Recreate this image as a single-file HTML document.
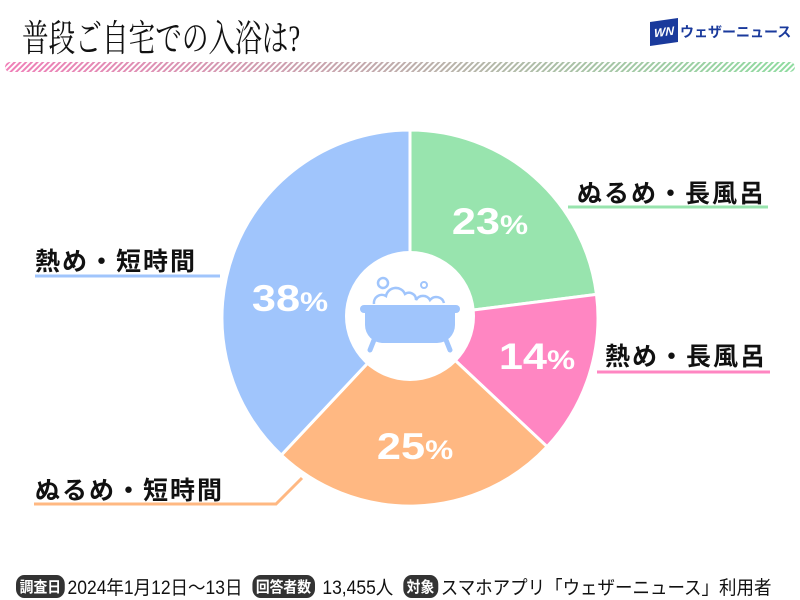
<!DOCTYPE html>
<html><head><meta charset="utf-8"><style>
body{margin:0;background:#fff;width:800px;height:600px;overflow:hidden;position:relative;font-family:"Liberation Sans","Noto Sans CJK JP",sans-serif}
.t{position:absolute;left:22px;top:8px;font:37px "Liberation Serif","Noto Serif CJK SC",serif;color:#111;transform:scaleX(0.72);transform-origin:0 0;white-space:nowrap}
.stripe{position:absolute;left:5px;top:62px;width:790px;height:10px;border-radius:5px;overflow:hidden}
.lab{position:absolute;font-size:25px;font-weight:bold;color:#111;white-space:nowrap;letter-spacing:2px}
.foot{position:absolute;top:573px;left:16px;font-size:19px;color:#111;white-space:nowrap;display:flex;align-items:center;transform:scaleX(0.92);transform-origin:0 0}
.b{background:#333;color:#fff;border-radius:9px;padding:1px 4px;font-size:15px;font-weight:bold;margin-right:3px}
</style></head><body>
<div class="t">普段ご自宅での入浴は?</div>
<div style="position:absolute;left:650px;top:20px;width:28px;height:24px;background:#1a3a9c;transform:skewY(-8deg);color:#fff;font:bold italic 12px 'Liberation Sans';line-height:24px;text-align:center">WN</div>
<div style="position:absolute;left:680px;top:22px;font-size:14px;font-weight:bold;color:#1a3a9c">ウェザーニュース</div>
<svg class="stripe" width="790" height="10"><defs><linearGradient id="g"><stop offset="0" stop-color="#f07fb8"/><stop offset="1" stop-color="#8fdca0"/></linearGradient><pattern id="p" width="4" height="4" patternUnits="userSpaceOnUse" patternTransform="rotate(45)"><rect width="2" height="4" fill="#fff"/></pattern></defs><rect width="790" height="10" fill="url(#g)"/><rect width="790" height="10" fill="url(#p)"/></svg>
<svg style="position:absolute;left:0;top:0" width="800" height="600">
<g stroke="#fff" stroke-width="3">
<path d="M410 318 L410 130 A188 188 0 0 1 596.5 294.4Z" fill="#98e4ae"/>
<path d="M410 318 L596.5 294.4 A188 188 0 0 1 547.1 446.7Z" fill="#ff86c2"/>
<path d="M410 318 L547.1 446.7 A188 188 0 0 1 281.3 455.1Z" fill="#ffb882"/>
<path d="M410 318 L281.3 455.1 A188 188 0 0 1 410 130Z" fill="#a0c5fc"/>
</g>
<circle cx="410" cy="316" r="65" fill="#fff"/>
<g fill="#a0c5fc" stroke="#a0c5fc">
<rect x="360" y="305" width="100" height="8" rx="4" stroke="none"/>
<path d="M365 313 h90 v12 a18 18 0 0 1 -18 18 h-54 a18 18 0 0 1 -18 -18z" stroke="none"/>
<path d="M374 340 l-4 10 M446 340 l4 10" stroke-width="5" stroke-linecap="round" fill="none"/>
<path d="M374 304 a8 8 0 0 1 12 -8 a10 10 0 0 1 19 -2 a7 7 0 0 1 11 6 a8 8 0 0 1 14 0 a8 8 0 0 1 14 3" fill="none" stroke-width="2.5"/>
<circle cx="383" cy="283" r="5" fill="none" stroke-width="2.5"/><circle cx="424" cy="285" r="3" fill="none" stroke-width="2"/>
</g>
<g fill="#fff" font-family="Liberation Sans" font-weight="bold" text-anchor="middle">
<text x="490" y="234" font-size="37" transform="translate(-83.3 0) scale(1.17 1)">23<tspan font-size="27">%</tspan></text>
<text x="537" y="369" font-size="37" transform="translate(-91.3 0) scale(1.17 1)">14<tspan font-size="27">%</tspan></text>
<text x="415" y="459" font-size="37" transform="translate(-70.5 0) scale(1.17 1)">25<tspan font-size="27">%</tspan></text>
<text x="290" y="311" font-size="37" transform="translate(-49.3 0) scale(1.17 1)">38<tspan font-size="27">%</tspan></text>
</g>
<g stroke-width="3" fill="none">
<path d="M568 207 H768" stroke="#98e4ae"/>
<path d="M35 276 H220" stroke="#a0c5fc"/>
<path d="M597 372 H770" stroke="#ff86c2"/>
<path d="M34 504 H276 L302 478" stroke="#ffb882"/>
</g>
</svg>
<div class="lab" style="left:577px;top:174px">ぬるめ・長風呂</div>
<div class="lab" style="left:35px;top:242px">熱め・短時間</div>
<div class="lab" style="left:605px;top:337px">熱め・長風呂</div>
<div class="lab" style="left:35px;top:471px">ぬるめ・短時間</div>
<div class="foot"><span class="b">調査日</span>2024年1月12日～13日&nbsp;&nbsp;<span class="b">回答者数</span>&nbsp;13,455人&nbsp;&nbsp;<span class="b">対象</span>スマホアプリ「ウェザーニュース」利用者</div>
</body></html>
